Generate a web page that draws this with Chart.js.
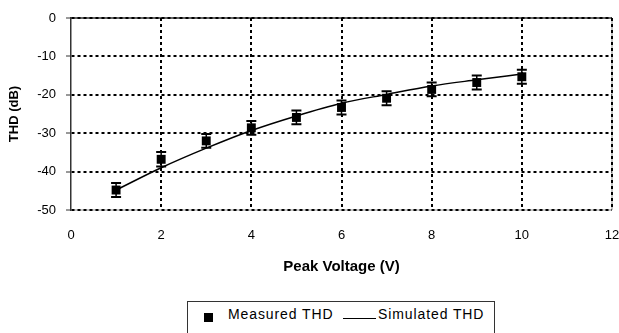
<!DOCTYPE html>
<html>
<head>
<meta charset="utf-8">
<script src="https://cdn.jsdelivr.net/npm/chart.js@4"></script>
<style>
  html, body { margin: 0; padding: 0; background: #fff; overflow: hidden; }
  body { width: 619px; height: 333px; position: relative; font-family: "Liberation Sans", Arial, sans-serif; }
  #wrap { position: absolute; left: 0; top: 0; width: 619px; height: 290px; }
  #legend { position: absolute; left: 187px; top: 301px; width: 308px; height: 44px; border: 1px solid #333; box-sizing: border-box; }
  #legend .it { position: absolute; }
  #legend .txt { font-size: 14px; line-height: 14px; letter-spacing: 0.9px; color: #000; white-space: nowrap; }
</style>
</head>
<body>
<div id="wrap"><canvas id="c"></canvas></div>
<div id="legend"></div>
<script>
// values
const voltage = [1, 2, 3, 4, 5, 6, 7, 8, 9, 10];
const measuredTHD = [-44.8, -36.8, -32.0, -28.6, -25.9, -23.3, -20.9, -18.6, -16.8, -15.3];
const measuredErr = [1.8, 1.9, 1.8, 1.8, 1.8, 1.8, 1.8, 1.8, 1.8, 1.8];
const simulatedTHD = [-44.8, -39.0, -33.9, -29.3, -25.5, -22.2, -19.9, -17.7, -16.1, -14.6];
const xTicks = [0, 2, 4, 6, 8, 10, 12];
const yTicks = [0, -10, -20, -30, -40, -50];

Chart.defaults.font.family = '"Liberation Sans", Arial, sans-serif';
Chart.defaults.color = '#000';

const toPts = (ys) => voltage.map((v, i) => ({ x: v, y: ys[i] }));

// plot area frame, drawn under the dotted grid
const plotFrame = {
  id: 'plotFrame',
  beforeDraw(chart) {
    const { ctx, chartArea: a } = chart;
    ctx.save();
    ctx.lineWidth = 1;
    ctx.strokeStyle = '#8c8c8c';
    ctx.beginPath();
    ctx.moveTo(a.right, a.top); ctx.lineTo(a.right, a.bottom); ctx.lineTo(a.left, a.bottom);
    ctx.stroke();
    ctx.lineWidth = 1.5;
    ctx.strokeStyle = '#333';
    ctx.beginPath();
    ctx.moveTo(a.left, a.top); ctx.lineTo(a.right, a.top);
    ctx.stroke();
    ctx.restore();
  }
};

const errorBars = {
  id: 'errorBars',
  beforeDatasetsDraw(chart) {
    const { ctx, scales: { x, y } } = chart;
    ctx.save();
    ctx.strokeStyle = '#000';
    voltage.forEach((v, i) => {
      const px = x.getPixelForValue(v);
      const hi = y.getPixelForValue(measuredTHD[i] + measuredErr[i]);
      const lo = y.getPixelForValue(measuredTHD[i] - measuredErr[i]);
      ctx.lineWidth = 1.5;
      ctx.beginPath(); ctx.moveTo(px, hi); ctx.lineTo(px, lo); ctx.stroke();
      ctx.lineWidth = 2;
      ctx.beginPath();
      ctx.moveTo(px - 5, hi); ctx.lineTo(px + 5, hi);
      ctx.moveTo(px - 5, lo); ctx.lineTo(px + 5, lo);
      ctx.stroke();
    });
    ctx.restore();
  }
};

const chart = new Chart(document.getElementById('c'), {
  type: 'scatter',
  data: {
    datasets: [
      {
        label: 'Measured THD', data: toPts(measuredTHD), showLine: false,
        pointStyle: 'rect', pointRadius: 6.3, pointBorderWidth: 0,
        backgroundColor: '#000', borderColor: '#000'
      },
      {
        label: 'Simulated THD', data: toPts(simulatedTHD), showLine: true,
        pointRadius: 0, borderColor: '#000', borderWidth: 1.5,
        cubicInterpolationMode: 'monotone'
      }
    ]
  },
  options: {
    responsive: true, maintainAspectRatio: false, animation: false,
    layout: { padding: { left: 0, right: 7, top: 18, bottom: 0 } },
    plugins: { legend: { display: false }, tooltip: { enabled: false } },
    scales: {
      x: {
        type: 'linear', min: 0, max: 12,
        afterBuildTicks: s => { s.ticks = xTicks.map(v => ({ value: v })); },
        afterFit: s => { s.height = 80; s.paddingLeft = 0; s.paddingRight = 0; },
        ticks: { padding: 18, font: { size: 13 }, callback: v => v },
        grid: {
          drawTicks: false, lineWidth: 2,
          color: c => (c.tick && c.tick.value === 0) ? 'rgba(0,0,0,0)' : '#000'
        },
        border: { display: false, dash: [3, 3] },
        title: { display: true, text: 'Peak Voltage (V)', font: { size: 15, weight: 'bold' }, padding: { top: 0, bottom: 14 } }
      },
      y: {
        type: 'linear', min: -50, max: 0,
        afterBuildTicks: s => { s.ticks = yTicks.map(v => ({ value: v })); },
        afterFit: s => { s.width = 71; s.paddingTop = 0; s.paddingBottom = 0; },
        ticks: { padding: 10, font: { size: 13 }, callback: v => v },
        grid: {
          drawTicks: true, tickLength: 5, tickColor: '#333', tickWidth: 1, tickBorderDash: [],
          lineWidth: 2, color: '#000'
        },
        border: { display: true, color: '#333', width: 1.5, dash: [3, 3] },
        title: { display: true, text: 'THD (dB)', font: { size: 13, weight: 'bold' }, padding: { top: 7, bottom: 0 } }
      }
    }
  },
  plugins: [plotFrame, errorBars]
});

// legend box below the chart, built from the dataset labels
const lg = document.getElementById('legend');
const [mds, sds] = chart.data.datasets;
lg.innerHTML =
  '<span class="it" style="left:16px;top:11px;width:9px;height:9px;background:#000"></span>' +
  '<span class="it txt" style="left:40px;top:5px">' + mds.label + '</span>' +
  '<span class="it" style="left:155px;top:16px;width:33px;height:1px;background:#000"></span>' +
  '<span class="it txt" style="left:190px;top:5px">' + sds.label + '</span>';
</script>
</body>
</html>
